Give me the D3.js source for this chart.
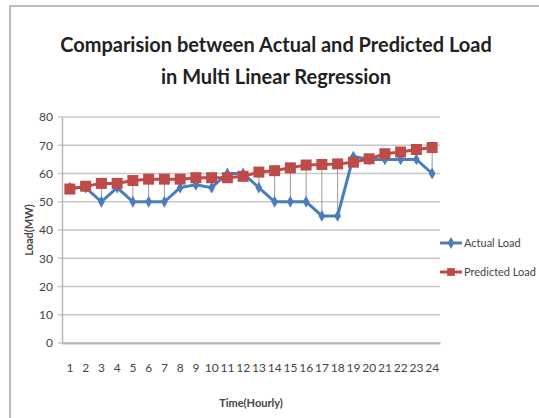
<!DOCTYPE html>
<html>
<head>
<meta charset="utf-8">
<script src="https://cdn.jsdelivr.net/npm/d3@7"></script>
<style>
  body { margin: 0; background: #fff; }
  text { font-family: Lato, Roboto, sans-serif; fill: #333; }
</style>
</head>
<body>
<div id="chart"></div>
<script>
// Hours on the x axis
const hours = d3.range(1, 25);
// Series values (MW)
const actualLoad = [55, 55, 50, 55, 50, 50, 50, 55, 56, 55, 60, 60, 55, 50, 50, 50, 45, 45, 66, 65, 65, 65, 65, 60];
const predictedLoad = [54.5, 55.5, 56.5, 56.5, 57.5, 58, 58, 58, 58.5, 58.5, 58.5, 59, 60.5, 61, 62, 63, 63.2, 63.4, 64, 65.2, 67, 67.6, 68.5, 69.2];
const yTicks = [0, 10, 20, 30, 40, 50, 60, 70, 80];

const W = 539, H = 418;
const margin = {top: 117, right: 99, bottom: 75, left: 62};

const svg = d3.select("#chart").append("svg")
  .attr("width", W)
  .attr("height", H);

// Chart frame
svg.append("rect")
  .attr("x", 10).attr("y", 6)
  .attr("width", W + 10).attr("height", H + 10)
  .attr("fill", "none")
  .attr("stroke", "#bdbdbd")
  .attr("stroke-width", 2);

// Title
svg.append("text")
  .attr("x", 276).attr("y", 52)
  .attr("text-anchor", "middle")
  .style("font-size", "20px").style("font-weight", "bold").style("fill", "#222")
  .text("Comparision between Actual and Predicted Load");
svg.append("text")
  .attr("x", 276).attr("y", 84)
  .attr("text-anchor", "middle")
  .style("font-size", "20px").style("font-weight", "bold").style("fill", "#222")
  .text("in Multi Linear Regression");

// Scales
const x = d3.scaleBand()
  .domain(hours)
  .range([margin.left, W - margin.right]);
const y = d3.scaleLinear()
  .domain([0, 80])
  .range([H - margin.bottom, margin.top]);

// Gridlines
svg.append("g")
  .selectAll("line")
  .data(yTicks)
  .join("line")
  .attr("x1", margin.left - 4)
  .attr("x2", W - margin.right)
  .attr("y1", d => y(d))
  .attr("y2", d => y(d))
  .attr("stroke", "#c8c8c8")
  .attr("stroke-width", 1.3);

// Axes
const yAxis = svg.append("g")
  .attr("transform", `translate(${margin.left},0)`)
  .call(d3.axisLeft(y).tickValues(yTicks).tickSize(0).tickPadding(9));
yAxis.select(".domain").attr("stroke", "#b5b5b5").attr("stroke-width", 1.5);
yAxis.selectAll("text").style("font-size", "12px").style("fill", "#444");

const xAxis = svg.append("g")
  .attr("transform", `translate(0,${H - margin.bottom})`)
  .call(d3.axisBottom(x).tickSize(0).tickPadding(20));
xAxis.select(".domain").attr("stroke", "#b5b5b5").attr("stroke-width", 2);
xAxis.selectAll("text").style("font-size", "12px").style("fill", "#444");

// Axis labels
svg.append("text")
  .attr("x", (margin.left + W - margin.right) / 2)
  .attr("y", 407)
  .attr("text-anchor", "middle")
  .style("font-size", "11px").style("font-weight", "bold").style("fill", "#444")
  .text("Time(Hourly)");
svg.append("text")
  .attr("transform", "rotate(-90)")
  .attr("x", -(y(40)))
  .attr("y", 33)
  .attr("text-anchor", "middle")
  .style("font-size", "11px").style("font-weight", "bold").style("fill", "#444")
  .text("Load(MW)");

// High-low drop lines
const cx = d => x(d) + x.bandwidth() / 2;
svg.append("g")
  .selectAll("line")
  .data(hours)
  .join("line")
  .attr("x1", cx).attr("x2", cx)
  .attr("y1", (d, i) => y(actualLoad[i]))
  .attr("y2", (d, i) => y(predictedLoad[i]))
  .attr("stroke", "#9a9a9a")
  .attr("stroke-width", 1);

const line = d3.line()
  .x((d, i) => cx(hours[i]))
  .y(d => y(d));

// Actual load
svg.append("path")
  .datum(actualLoad)
  .attr("d", line)
  .attr("fill", "none")
  .attr("stroke", "#4a7ebb")
  .attr("stroke-width", 3);
svg.append("g")
  .selectAll("path")
  .data(actualLoad)
  .join("path")
  .attr("d", d3.symbol(d3.symbolDiamond, 40))
  .attr("transform", (d, i) => `translate(${cx(hours[i])},${y(d)})`)
  .attr("fill", "#4a7ebb");

// Predicted load
svg.append("path")
  .datum(predictedLoad)
  .attr("d", line)
  .attr("fill", "none")
  .attr("stroke", "#be4b48")
  .attr("stroke-width", 3);
svg.append("g")
  .selectAll("rect")
  .data(predictedLoad)
  .join("rect")
  .attr("x", (d, i) => cx(hours[i]) - 5.5)
  .attr("y", d => y(d) - 5.5)
  .attr("width", 11).attr("height", 11)
  .attr("fill", "#be4b48");

// Legend
const legend = [
  {name: "Actual Load", color: "#4a7ebb", y: 243, shape: "diamond"},
  {name: "Predicted Load", color: "#be4b48", y: 272, shape: "square"}
];
const lg = svg.append("g").selectAll("g").data(legend).join("g")
  .attr("transform", d => `translate(440,${d.y})`);
lg.append("line")
  .attr("x1", 0).attr("x2", 22)
  .attr("stroke", d => d.color).attr("stroke-width", 3);
lg.append("path")
  .attr("d", d => d.shape === "diamond" ? d3.symbol(d3.symbolDiamond, 40)() : d3.symbol(d3.symbolSquare, 60)())
  .attr("transform", "translate(11,0)")
  .attr("fill", d => d.color);
lg.append("text")
  .attr("x", 24).attr("y", 4)
  .style("font-size", "11px").style("fill", "#444")
  .text(d => d.name);
</script>
</body>
</html>
